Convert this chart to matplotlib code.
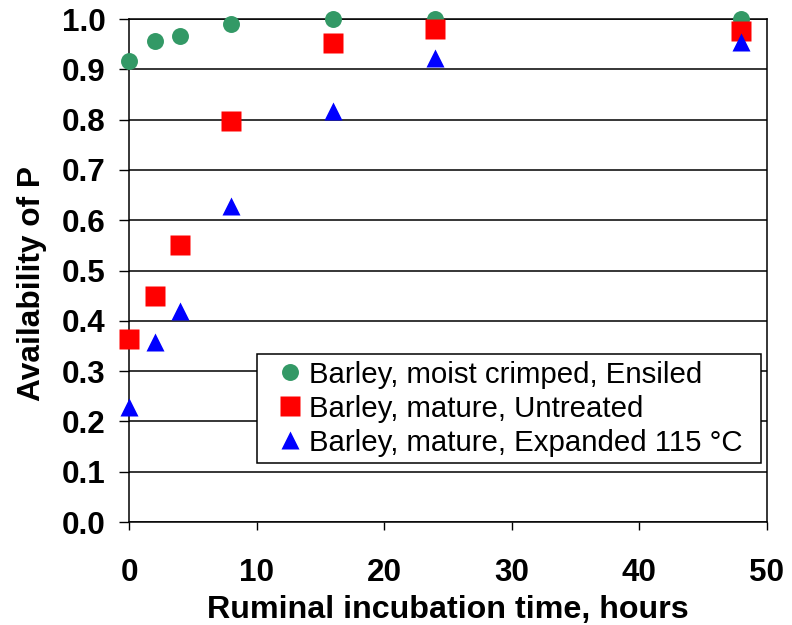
import matplotlib
matplotlib.use("Agg")
import matplotlib.pyplot as plt
from matplotlib.patches import Rectangle

plt.rcParams['font.family'] = ['Liberation Sans', 'DejaVu Sans']

hours = [0, 2, 4, 8, 16, 24, 48]
ensiled = [0.917, 0.957, 0.967, 0.990, 1.000, 1.000, 1.000]
untreated = [0.364, 0.450, 0.551, 0.797, 0.952, 0.980, 0.977]
expanded = [0.228, 0.358, 0.420, 0.629, 0.818, 0.923, 0.955]

labels = ['Barley, moist crimped, Ensiled',
          'Barley, mature, Untreated',
          'Barley, mature, Expanded 115 °C']

fig = plt.figure(figsize=(7.92, 6.25), dpi=100)
ax = fig.add_axes([129 / 792, 1 - 522 / 625, 638 / 792, 503 / 625])

ax.plot(hours, ensiled, 'o', color='#339966', ms=12.2, mec='none',
        clip_on=False, label=labels[0], zorder=3)
ax.plot(hours, untreated, 's', color='#ff0000', ms=15, mec='none',
        clip_on=False, label=labels[1], zorder=3)
ax.plot(hours, expanded, '^', color='#0000ff', ms=13, mec='none',
        clip_on=False, label=labels[2], zorder=3)

ax.set_xlim(0, 50)
ax.set_ylim(0, 1.0)
ax.set_xticks(range(0, 51, 10))
ax.set_yticks([i / 10 for i in range(11)])
ax.set_yticklabels(['%.1f' % (i / 10) for i in range(11)])

ax.yaxis.grid(True, color='black', lw=1.1)
ax.set_axisbelow(True)
for s in ax.spines.values():
    s.set_color('black')
    s.set_linewidth(1.1)

ax.tick_params(axis='x', direction='out', length=6, width=1, pad=20,
               labelsize=22.6)
ax.tick_params(axis='y', direction='out', length=7, width=1, pad=10,
               labelsize=22.6)
for t in ax.get_xticklabels() + ax.get_yticklabels():
    t.set_fontweight('bold')

ax.set_xlabel('Ruminal incubation time, hours', fontsize=23.2,
              fontweight='bold', labelpad=5)
ax.set_ylabel('Availability of P', fontsize=22.8, fontweight='bold')
ax.yaxis.set_label_coords(-0.1285, 0.474)

# legend without frame; frame drawn separately with wider side padding
leg = ax.legend(loc='lower right', bbox_to_anchor=(0.9718, 0.1173),
                fontsize=21.2, frameon=False, handlelength=1.0,
                handletextpad=0.15, labelspacing=0.2, borderpad=0.22,
                borderaxespad=0)
leg.set_zorder(6)
fig.canvas.draw()
bb = leg.get_window_extent()
dx = 12
ax.add_patch(Rectangle((bb.x0 - dx, bb.y0), bb.width + 2 * dx, bb.height,
                       transform=None, facecolor='white', edgecolor='black',
                       lw=1.1, zorder=5, clip_on=False))

fig.savefig('out.png', dpi=100)
